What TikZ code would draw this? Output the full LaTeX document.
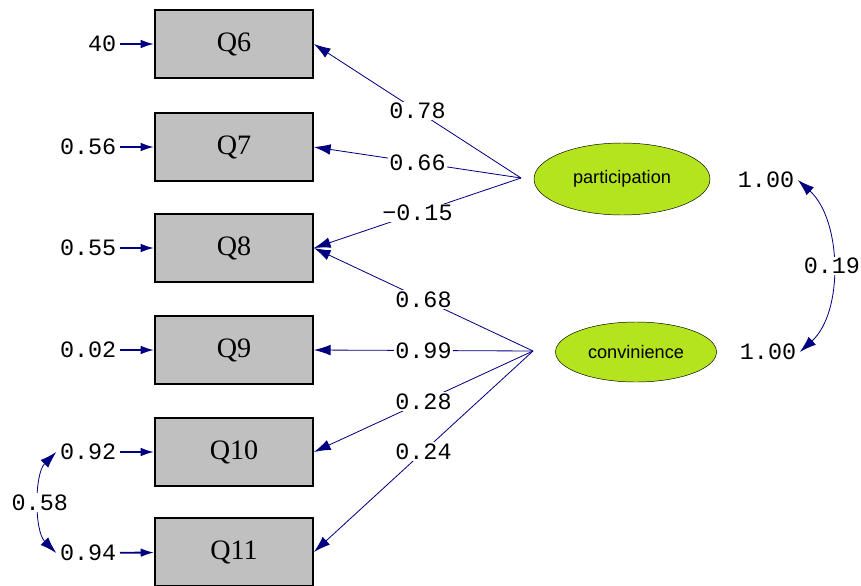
\documentclass[tikz,border=0pt]{standalone}
\usepackage{fontspec}
\setmainfont{Liberation Serif}
\setsansfont{Liberation Sans}
\setmonofont{Liberation Mono}
\usetikzlibrary{arrows.meta}
\usetikzlibrary{quotes}
\usetikzlibrary{shapes.geometric}
\definecolor{lisnavy}{RGB}{0,0,128}
\definecolor{lisgreen}{RGB}{180,228,30}
\definecolor{lisgray}{RGB}{192,192,192}

\begin{document}
\begin{tikzpicture}[x=0.03cm,y=-0.03cm,
    every edge quotes/.style={fill=white,inner sep=1pt,font=\ttfamily\fontsize{20}{20}\selectfont},
    obs/.style={draw,line width=1.6pt,fill=lisgray,minimum width=4.74cm,minimum height=2.04cm,font=\fontsize{24}{24}\selectfont},
    lat/.style={ellipse,draw,fill=lisgreen,inner sep=0pt,font=\sffamily\fontsize{15.5}{16}\selectfont},
    val/.style={font=\ttfamily\fontsize{20}{20}\selectfont,inner sep=3pt},
    load/.style={draw=lisnavy,line width=0.7pt,-{Latex[length=5mm,width=3.2mm]}},
    err/.style={draw=lisnavy,line width=1.6pt,-{Latex[length=4mm,width=2.6mm]}},
    cov/.style={draw=lisnavy,line width=0.7pt,{Latex[length=5mm,width=3.2mm]}-{Latex[length=5mm,width=3.2mm]}}]
    \useasboundingbox (0,0) rectangle (861,586);
    \node[obs] (q6) at (234,44) {Q6};
    \node[obs] (q7) at (234,147) {Q7};
    \node[obs] (q8) at (234,248) {Q8};
    \node[obs] (q9) at (234,350) {Q9};
    \node[obs] (q10) at (234,452) {Q10};
    \node[obs] (q11) at (234,552) {Q11};
    \node[val,anchor=east] (e6) at (120,44) {40};
    \node[val,anchor=east] (e7) at (120,147) {0.56};
    \node[val,anchor=east] (e8) at (120,248) {0.55};
    \node[val,anchor=east] (e9) at (120,350) {0.02};
    \node[val,anchor=east] (e10) at (120,452) {0.92};
    \node[val,anchor=east] (e11) at (120,553) {0.94};
    \node[lat,minimum width=5.28cm,minimum height=2.16cm] (part) at (622,179) {participation};
    \node[lat,minimum width=4.83cm,minimum height=1.8cm] (conv) at (636,352) {convinience};
    \node[val] (v1) at (766,180) {1.00};
    \node[val] (v2) at (768,352) {1.00};
    \coordinate (pa) at (521,178);
    \coordinate (ca) at (533,351);
    \draw (pa) edge["0.78",load] (q6.east);
    \draw (pa) edge["0.66",load] (q7.east);
    \draw (pa) edge["−0.15",load] (q8.east);
    \draw (ca) edge["0.68",load] (q8.east);
    \draw (ca) edge["0.99",load] (q9.east);
    \draw (ca) edge["0.28",load] (q10.east);
    \draw (ca) edge["0.24",load] (q11.east);
    \draw (e6) edge[err] (q6);
    \draw (e7) edge[err] (q7);
    \draw (e8) edge[err] (q8);
    \draw (e9) edge[err] (q9);
    \draw (e10) edge[err] (q10);
    \draw (e11) edge[err] (q11);
    \draw[cov] (v1.east) .. controls +(44,40) and +(44,-40) .. node[val,fill=white,inner sep=1pt] {0.19} (v2.east);
    \draw[cov] (e10.west) .. controls +(-22,22) and +(-22,-22) .. node[val,fill=white,inner sep=1pt] {0.58} (e11.west);
\end{tikzpicture}
\end{document}
